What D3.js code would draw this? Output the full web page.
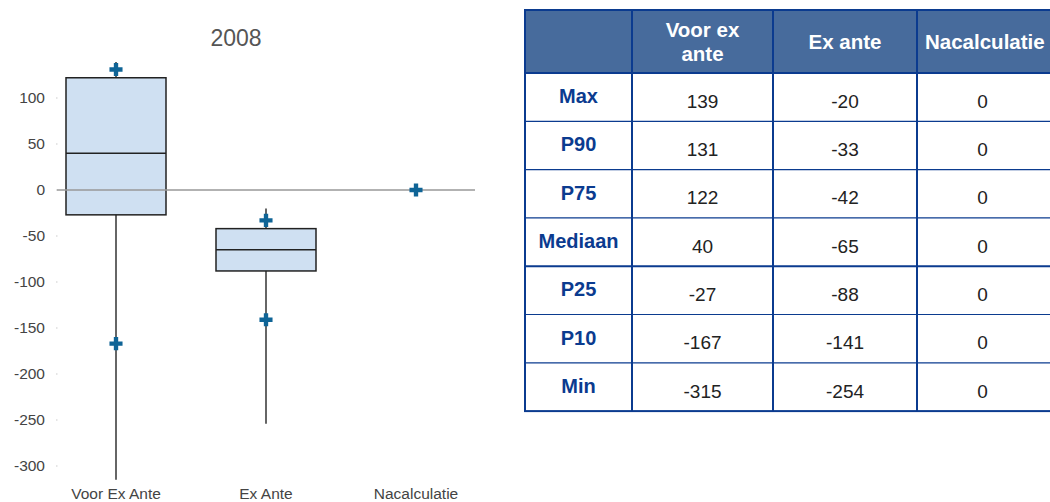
<!DOCTYPE html>
<html>
<head>
<meta charset="utf-8">
<script src="https://cdn.jsdelivr.net/npm/d3@7"></script>
<style>
  body { margin: 0; background: #fff; }
  svg { display: block; font-family: "Liberation Sans", Arial, sans-serif; }
</style>
</head>
<body>
<div id="chart"></div>
<script>
// data
var categories = ['Voor Ex Ante', 'Ex Ante', 'Nacalculatie'];
var tableHeaders = ['Voor ex ante', 'Ex ante', 'Nacalculatie'];
var rowLabels = ['Max', 'P90', 'P75', 'Mediaan', 'P25', 'P10', 'Min'];
var maxVals = [139, -20, 0];
var p90Vals = [131, -33, 0];
var p75Vals = [122, -42, 0];
var medianVals = [40, -65, 0];
var p25Vals = [-27, -88, 0];
var p10Vals = [-167, -141, 0];
var minVals = [-315, -254, 0];
var yTicks = [100, 50, 0, -50, -100, -150, -200, -250, -300];

var W = 1050, H = 502;
var svg = d3.select('#chart').append('svg')
  .attr('width', W).attr('height', H);

// ---- box plot ----
var x = d3.scaleBand().domain(categories).range([41, 491]);
var y = d3.scaleLinear().domain([0, 100]).range([190, 98]);
var boxW = 100;

svg.append('text')
  .attr('x', 236).attr('y', 46)
  .attr('text-anchor', 'middle')
  .style('font-size', '23px').style('fill', '#555')
  .text('2008');

var yAxis = svg.append('g');
yAxis.selectAll('text').data(yTicks).enter().append('text')
  .attr('x', 45).attr('y', d => y(d))
  .attr('dy', '0.35em').attr('text-anchor', 'end')
  .style('font-size', '15.5px').style('fill', '#444')
  .text(d => d);
yAxis.selectAll('rect').data(yTicks).enter().append('rect')
  .attr('x', 56).attr('y', d => y(d) - 0.5)
  .attr('width', 1.5).attr('height', 1)
  .attr('fill', '#ccc');

var boxData = categories.map((c, i) => ({
  cat: c, max: maxVals[i], p90: p90Vals[i], p75: p75Vals[i],
  med: medianVals[i], p25: p25Vals[i], p10: p10Vals[i], min: minVals[i]
}));

var g = svg.selectAll('.box').data(boxData.filter(d => d.max !== d.min))
  .enter().append('g').attr('class', 'box');

g.append('line')
  .attr('x1', d => x(d.cat) + x.bandwidth() / 2)
  .attr('x2', d => x(d.cat) + x.bandwidth() / 2)
  .attr('y1', d => y(d.max)).attr('y2', d => y(d.min))
  .attr('stroke', '#333').attr('stroke-width', 1.5);

g.append('rect')
  .attr('x', d => x(d.cat) + (x.bandwidth() - boxW) / 2)
  .attr('y', d => y(d.p75))
  .attr('width', boxW)
  .attr('height', d => y(d.p25) - y(d.p75))
  .attr('fill', '#cfe0f2').attr('stroke', '#222').attr('stroke-width', 1.5);

g.append('line')
  .attr('x1', d => x(d.cat) + (x.bandwidth() - boxW) / 2)
  .attr('x2', d => x(d.cat) + (x.bandwidth() + boxW) / 2)
  .attr('y1', d => y(d.med)).attr('y2', d => y(d.med))
  .attr('stroke', '#222').attr('stroke-width', 1.5);

// zero line
svg.append('line')
  .attr('x1', 57).attr('x2', 475)
  .attr('y1', y(0)).attr('y2', y(0))
  .attr('stroke', '#999').attr('stroke-width', 1.5);

// P90 / P10 markers
var marks = [];
boxData.forEach(d => {
  marks.push({cat: d.cat, v: d.p90});
  if (d.p10 !== d.p90) marks.push({cat: d.cat, v: d.p10});
});
svg.selectAll('.mark').data(marks).enter().append('path')
  .attr('class', 'mark')
  .attr('transform', d => `translate(${x(d.cat) + x.bandwidth() / 2},${y(d.v)})`)
  .attr('d', d3.symbol(d3.symbolCross, 95))
  .attr('fill', '#0f6496');

svg.selectAll('.catlabel').data(categories).enter().append('text')
  .attr('x', d => x(d) + x.bandwidth() / 2)
  .attr('y', 499)
  .attr('text-anchor', 'middle')
  .style('font-size', '15.5px').style('fill', '#444')
  .text(d => d);

// ---- table ----
var tX = 525, tTop = 10, headH = 63, rowH = 48.3;
var colX = [525, 632, 773, 917, 1060];
var tBottom = tTop + headH + rowH * rowLabels.length;
var tbl = svg.append('g');
var blue = '#0b3b8f';

tbl.append('rect')
  .attr('x', tX).attr('y', tTop)
  .attr('width', colX[4] - tX).attr('height', headH)
  .attr('fill', '#476b9c');

// header texts
var headerLines = [[], ['Voor ex', 'ante'], ['Ex ante'], ['Nacalculatie']];
headerLines.forEach((lines, ci) => {
  var cx = (colX[ci] + colX[ci + 1]) / 2;
  var startY = tTop + headH / 2 - (lines.length - 1) * 12;
  lines.forEach((t, li) => {
    tbl.append('text')
      .attr('x', ci === 3 ? colX[3] + 8 : cx).attr('y', startY + li * 24)
      .attr('dy', '0.35em')
      .attr('text-anchor', ci === 3 ? 'start' : 'middle')
      .style('font-size', '20.5px').style('font-weight', 'bold').style('fill', '#fff')
      .text(t);
  });
});

var statCols = [maxVals, p90Vals, p75Vals, medianVals, p25Vals, p10Vals, minVals];
var rows = rowLabels.map((r, i) => ({ label: r, vals: statCols[i] }));

var rowG = tbl.selectAll('.row').data(rows).enter().append('g')
  .attr('transform', (d, i) => `translate(0,${tTop + headH + i * rowH})`);

rowG.append('text')
  .attr('x', (colX[0] + colX[1]) / 2).attr('y', rowH / 2 - 1)
  .attr('dy', '0.35em').attr('text-anchor', 'middle')
  .style('font-size', '20px').style('font-weight', 'bold').style('fill', blue)
  .text(d => d.label);

rowG.selectAll('.val').data(d => d.vals).enter().append('text')
  .attr('x', (d, i) => (colX[i + 1] + colX[i + 2]) / 2 - (i === 2 ? 6 : 0))
  .attr('y', rowH / 2 + 4)
  .attr('dy', '0.35em').attr('text-anchor', 'middle')
  .style('font-size', '19px').style('fill', '#222')
  .text(d => d);

// grid lines
rows.forEach((d, i) => {
  var yy = tTop + headH + i * rowH;
  tbl.append('line')
    .attr('x1', tX).attr('x2', colX[4])
    .attr('y1', yy).attr('y2', yy)
    .attr('stroke', blue).attr('stroke-width', i === 0 || i === 4 ? 2 : 1.2);
});
colX.slice(1, 4).forEach(cx => {
  tbl.append('line')
    .attr('x1', cx).attr('x2', cx)
    .attr('y1', tTop).attr('y2', tBottom)
    .attr('stroke', blue).attr('stroke-width', 2);
});
tbl.append('rect')
  .attr('x', tX).attr('y', tTop)
  .attr('width', colX[4] - tX).attr('height', tBottom - tTop)
  .attr('fill', 'none').attr('stroke', blue).attr('stroke-width', 2);
</script>
</body>
</html>
